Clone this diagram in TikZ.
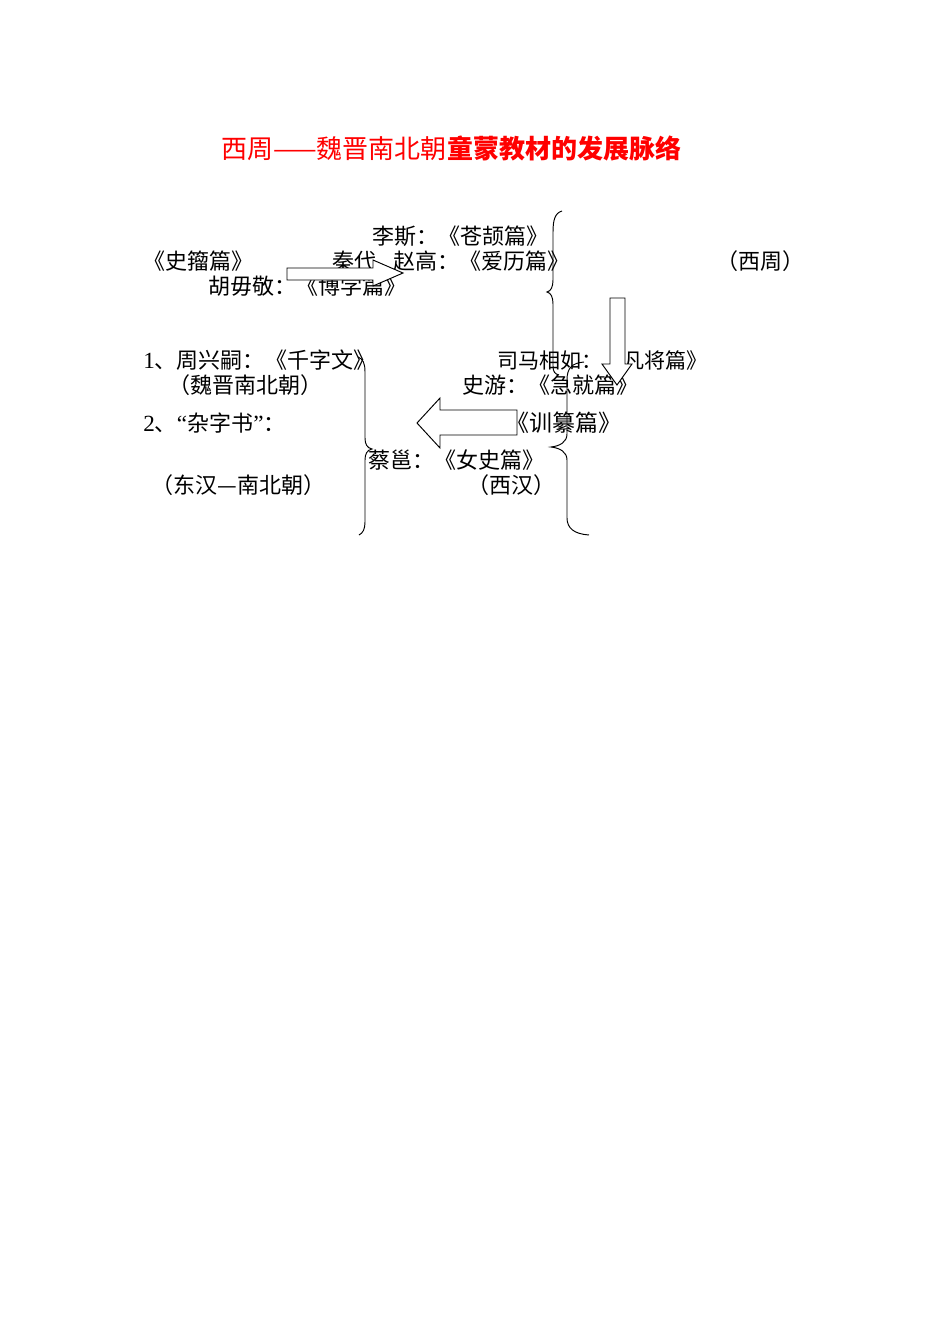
\documentclass[tikz,border=0pt]{standalone}
\usepackage{fontspec}
\newfontfamily\cjk{Noto Sans CJK SC}
\newfontfamily\lat{Liberation Serif}
\begin{document}
\begin{tikzpicture}[x=0.6266pt,y=-0.6266pt,
  txt/.style={anchor=west,inner sep=0pt,font=\cjk\fontsize{13.8pt}{16pt}\selectfont},
  narrowtxt/.style={anchor=west,inner sep=0pt,font=\cjk\fontsize{13.2pt}{16pt}\selectfont},
  bigtxt/.style={anchor=west,inner sep=0pt,font=\cjk\fontsize{14.4pt}{17pt}\selectfont},
  ttl/.style={anchor=west,inner sep=0pt,text=red,font=\cjk\fontsize{16.3pt}{19pt}\selectfont},
  blockarrow/.style={draw=black,fill=white,line width=0.6pt,line join=miter},
  bracestyle/.style={draw=black,line width=0.6pt}]
\useasboundingbox (0,0) rectangle (950,1344);
\fill[white] (0,0) rectangle (950,1344);
% title
\node[ttl] (title) at (221,149) {西周——魏晋南北朝{\bfseries 童蒙教材的发展脉络}};
% texts
\node[txt] (lisi) at (372,236) {李斯：《苍颉篇》};
\node[txt] (shizhou) at (143,261) {《史籀篇》};
\node[txt] (qindai) at (332,261) {秦代};
\node[txt] (zhaogao) at (393,261) {赵高：《爱历篇》};
\node[txt] (xizhou) at (716,261) {（西周）};
\node[txt] (huwujing) at (208,286) {胡毋敬：《博学篇》};
\node[txt] (zhou) at (143,360) {{\lat\fontsize{14.5pt}{16pt}\selectfont 1}、周兴嗣：《千字文》};
\node[narrowtxt] (sima) at (497,360) {司马相如：《凡将篇》};
\node[txt] (weijin) at (168,385) {（魏晋南北朝）};
\node[txt] (shiyou) at (462,385) {史游：《急就篇》};
\node[txt] (zazi) at (143,423) {{\lat\fontsize{14.5pt}{16pt}\selectfont 2}、{\lat\fontsize{14.5pt}{16pt}\selectfont “}杂字书{\lat\fontsize{14.5pt}{16pt}\selectfont ”}：};
\node[bigtxt] (xunzuan) at (506,423) {《训纂篇》};
\node[txt] (caiyong) at (368,460) {蔡邕：《女史篇》};
\node[txt] (donghan) at (151,485) {（东汉—南北朝）};
\node[txt] (xihan) at (467,485) {（西汉）};
% block arrows
\draw[blockarrow] (287,268) -- (373,268) -- (373,260) -- (403,273) -- (373,286) -- (373,280) -- (287,280) -- cycle;
\draw[blockarrow] (610,298) -- (625,298) -- (625,364) -- (632,364) -- (617,385) -- (602,364) -- (610,364) -- cycle;
\draw[blockarrow] (517,410) -- (440,410) -- (440,398) -- (417,423) -- (440,448) -- (440,435) -- (517,435) -- cycle;
% braces
\draw[bracestyle] (562,211) .. controls (555,213) and (553,220) .. (553,232)
  -- (553,280) .. controls (553,287) and (551,291) .. (547,292)
  .. controls (551,293) and (553,297) .. (553,304)
  -- (553,366) .. controls (553,372) and (555,374) .. (559,375);
\draw[bracestyle] (584,362) .. controls (572,363) and (567,368) .. (567,380)
  -- (567,434) .. controls (567,442) and (560,446) .. (551,447)
  .. controls (560,448) and (567,452) .. (567,460)
  -- (567,518) .. controls (567,528) and (574,534) .. (589,535);
\draw[bracestyle] (358,357) .. controls (363,359) and (365,363) .. (365,372)
  -- (365,438) .. controls (365,444) and (367,448) .. (372,449)
  .. controls (367,450) and (365,454) .. (365,460)
  -- (365,522) .. controls (365,529) and (363,533) .. (359,535);
\end{tikzpicture}
\end{document}
